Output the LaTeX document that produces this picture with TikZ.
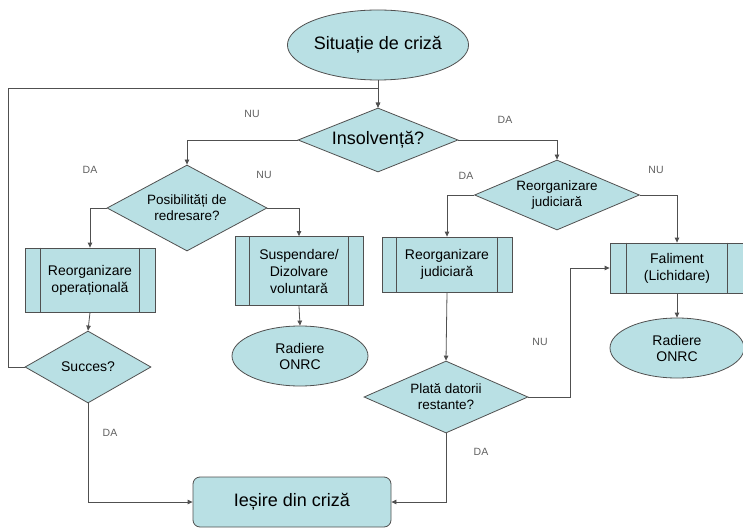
\documentclass[tikz,border=0pt]{standalone}
\usepackage{fontspec}
\setmainfont{Liberation Sans}
\usetikzlibrary{shapes.geometric,calc,arrows.meta}
\definecolor{fillc}{HTML}{B9E0E4}
\definecolor{linec}{HTML}{505050}
\definecolor{labc}{HTML}{606060}
\tikzset{
  base/.style={draw=linec, line width=0.8pt, fill=fillc, align=center, inner sep=0pt, text=black},
  ell/.style={base, ellipse, font=\fontsize{14}{16}\selectfont},
  dia/.style={base, diamond, font=\fontsize{13.5}{16}\selectfont},
  procbox/.style={base, rectangle, font=\fontsize{14}{17}\selectfont},
  endbox/.style={base, rectangle, rounded corners=7pt, font=\fontsize{18}{20}\selectfont},
  conn/.style={draw=linec, line width=0.8pt},
  arr/.style={conn, -{Triangle[length=5pt,width=4.5pt]}},
  lab/.style={text=labc, font=\fontsize{10.5}{12}\selectfont, inner sep=0pt}
}
\newcommand{\procbars}[2]{%
  \draw[conn] ($(#1.north west)+(#2,0)$) -- ($(#1.south west)+(#2,0)$);
  \draw[conn] ($(#1.north east)+(-#2,0)$) -- ($(#1.south east)+(-#2,0)$);}
\begin{document}
\begin{tikzpicture}[x=1pt,y=-1pt]
\useasboundingbox (0,0) rectangle (743,529);
% nodes
\node[ell, minimum width=164pt, minimum height=70pt, font=\fontsize{18}{20}\selectfont] (sit) at (378,45) {Situație de criză};
\node[dia, aspect=2.5, minimum width=160pt, minimum height=64pt, font=\fontsize{18}{20}\selectfont] (ins) at (378,140) {Insolvență?};
\node[dia, aspect=1.86, minimum width=160pt, minimum height=86pt] (pos) at (187,208) {Posibilități de\\redresare?};
\node[dia, aspect=2.36, minimum width=165pt, minimum height=70pt] (rjd) at (557,195) {Reorganizare\\judiciară};
\node[procbox, minimum width=130pt, minimum height=64pt] (rop) at (90,280) {Reorganizare\\operațională};
\node[procbox, minimum width=128pt, minimum height=69pt] (sus) at (299,271) {Suspendare/\\Dizolvare\\voluntară};
\node[ell, minimum width=136pt, minimum height=60pt] (rad1) at (300,356) {Radiere\\ONRC};
\node[dia, aspect=1.75, minimum width=126pt, minimum height=72pt, font=\fontsize{14}{16}\selectfont] (suc) at (88,367) {Succes?};
\node[procbox, minimum width=130pt, minimum height=55pt] (rjb) at (447,264.5) {Reorganizare\\judiciară};
\node[procbox, minimum width=134pt, minimum height=50pt] (fal) at (677,268) {Faliment\\(Lichidare)};
\node[ell, minimum width=134pt, minimum height=60pt] (rad2) at (677,348) {Radiere\\ONRC};
\node[dia, aspect=2.28, minimum width=164pt, minimum height=72pt] (pla) at (446,397) {Plată datorii\\restante?};
\node[endbox, minimum width=198pt, minimum height=50pt] (ies) at (292,502) {Ieșire din criză};
% process bars
\procbars{rop}{16}
\procbars{sus}{15}
\procbars{rjb}{15}
\procbars{fal}{17}
% connectors
\coordinate (loopc) at (8,88);
\draw[arr] (sit.south) -- (ins.north);
\draw[arr] (suc.west) -| (loopc) -| (ins.north);
\draw[arr] (ins.west) -| (pos.north);
\draw[arr] (ins.east) -| (rjd.north);
\draw[arr] (pos.west) -| (rop.north);
\draw[arr] (pos.east) -| (sus.north);
\draw[arr] (rop.south) -- (suc.north);
\draw[arr] (sus.south) -- (rad1.north);
\draw[arr] (suc.south) |- (ies.west);
\draw[arr] (rjd.west) -| (rjb.north);
\draw[arr] (rjd.east) -| (fal.north);
\draw[arr] (fal.south) -- (rad2.north);
\draw[arr] (rjb.south) -- (pla.north);
\draw[arr] (pla.east) -- ++(42,0) |- (fal.west);
\draw[arr] (pla.south) |- (ies.east);
% labels
\node[lab] (l1) at (252,114) {NU};
\node[lab] (l2) at (505,120) {DA};
\node[lab] (l3) at (90,170) {DA};
\node[lab] (l4) at (264,175) {NU};
\node[lab] (l5) at (466,176) {DA};
\node[lab] (l6) at (656,170) {NU};
\node[lab] (l7) at (110,433) {DA};
\node[lab] (l8) at (540,342) {NU};
\node[lab] (l9) at (481,452) {DA};
\end{tikzpicture}
\end{document}
